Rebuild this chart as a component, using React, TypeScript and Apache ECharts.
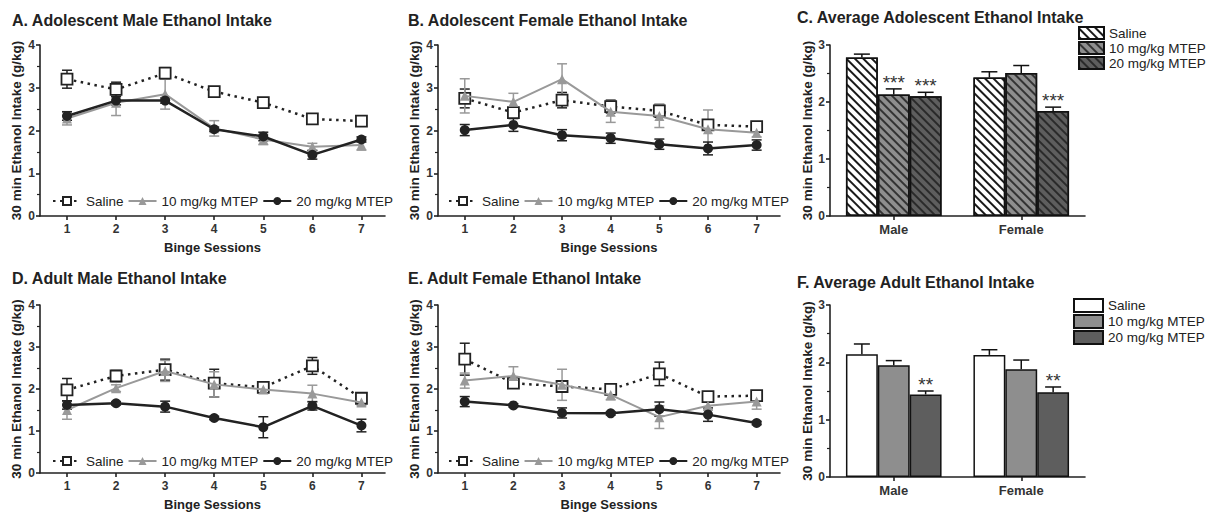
import React, { useEffect, useRef } from "react";
import * as echarts from "echarts";

// ---------- data ----------
const sessions = [1, 2, 3, 4, 5, 6, 7];
const groupNames = ["Saline", "10 mg/kg MTEP", "20 mg/kg MTEP"];
const sexes = ["Male", "Female"];

// A. Adolescent male
const aSaline = [3.2, 2.96, 3.34, 2.91, 2.65, 2.27, 2.22];
const aSalineSem = [0.21, 0.17, 0.13, 0.05, 0.05, 0.08, 0.05];
const a10 = [2.28, 2.65, 2.85, 2.05, 1.79, 1.62, 1.66];
const a10Sem = [0.15, 0.3, 0.35, 0.18, 0.12, 0.08, 0.12];
const a20 = [2.34, 2.7, 2.7, 2.03, 1.86, 1.43, 1.79];
const a20Sem = [0.1, 0.1, 0.06, 0.05, 0.1, 0.1, 0.06];

// B. Adolescent female
const bSaline = [2.75, 2.42, 2.71, 2.56, 2.46, 2.13, 2.09];
const bSalineSem = [0.22, 0.12, 0.18, 0.15, 0.15, 0.1, 0.08];
const b10 = [2.81, 2.67, 3.2, 2.44, 2.34, 2.03, 1.95];
const b10Sem = [0.4, 0.2, 0.36, 0.25, 0.27, 0.45, 0.1];
const b20 = [2.01, 2.13, 1.89, 1.82, 1.68, 1.58, 1.66];
const b20Sem = [0.13, 0.15, 0.13, 0.12, 0.12, 0.15, 0.12];

// D. Adult male
const dSaline = [1.98, 2.31, 2.46, 2.14, 2.04, 2.55, 1.78];
const dSalineSem = [0.27, 0.13, 0.25, 0.33, 0.06, 0.2, 0.1];
const d10 = [1.5, 2.02, 2.43, 2.11, 1.99, 1.89, 1.68];
const d10Sem = [0.22, 0.08, 0.25, 0.3, 0.06, 0.2, 0.08];
const d20 = [1.62, 1.66, 1.58, 1.31, 1.09, 1.6, 1.13];
const d20Sem = [0.1, 0.04, 0.13, 0.04, 0.25, 0.1, 0.15];

// E. Adult female
const eSaline = [2.71, 2.14, 2.06, 1.99, 2.36, 1.82, 1.84];
const eSalineSem = [0.38, 0.07, 0.1, 0.08, 0.28, 0.07, 0.08];
const e10 = [2.2, 2.31, 2.1, 1.86, 1.33, 1.6, 1.7];
const e10Sem = [0.18, 0.22, 0.37, 0.12, 0.27, 0.1, 0.18];
const e20 = [1.7, 1.61, 1.43, 1.42, 1.52, 1.39, 1.19];
const e20Sem = [0.12, 0.04, 0.12, 0.04, 0.17, 0.16, 0.04];

// C. Average adolescent (Male, Female)
const cSaline = [2.78, 2.43];
const cSalineSem = [0.06, 0.1];
const c10 = [2.13, 2.51];
const c10Sem = [0.1, 0.13];
const c20 = [2.1, 1.84];
const c20Sem = [0.07, 0.07];
const cStars = [["", ""], ["***", ""], ["***", "***"]];

// F. Average adult (Male, Female)
const fSaline = [2.14, 2.13];
const fSalineSem = [0.18, 0.09];
const f10 = [1.95, 1.88];
const f10Sem = [0.08, 0.16];
const f20 = [1.44, 1.48];
const f20Sem = [0.06, 0.09];
const fStars = [["", ""], ["", ""], ["**", "**"]];

const titles = [
  "A. Adolescent Male Ethanol Intake",
  "B. Adolescent Female Ethanol Intake",
  "C. Average Adolescent Ethanol Intake",
  "D. Adult Male Ethanol Intake",
  "E. Adult Female Ethanol Intake",
  "F. Average Adult Ethanol Intake",
];
const yName = "30 min Ethanol Intake (g/kg)";
const xName = "Binge Sessions";

// ---------- styling ----------
const FONT = "'Liberation Sans', Arial, sans-serif";
const INK = "#222";
const GREY = "#999";

const grids = [
  { left: 40, top: 45, width: 345, height: 171 },
  { left: 438, top: 45, width: 342, height: 171 },
  { left: 830, top: 45, width: 255, height: 171 },
  { left: 40, top: 305, width: 345, height: 168 },
  { left: 438, top: 305, width: 342, height: 168 },
  { left: 830, top: 305, width: 255, height: 172 },
];
const titlePos = [
  { left: 12, top: 12 },
  { left: 408, top: 12 },
  { left: 797, top: 9 },
  { left: 12, top: 270 },
  { left: 408, top: 270 },
  { left: 797, top: 274 },
];

const axisLineStyle = { color: INK, width: 1.6 };

function yAxisFor(gi: number, max: number, nameGap: number) {
  return {
    type: "value",
    gridIndex: gi,
    min: 0,
    max,
    interval: 1,
    name: yName,
    nameLocation: "middle",
    nameGap,
    nameTextStyle: { fontFamily: FONT, fontSize: 13.5, fontWeight: "bold", color: INK },
    axisLine: { show: true, lineStyle: axisLineStyle },
    axisTick: { show: true, length: 4, lineStyle: axisLineStyle },
    minorTick: { show: true, splitNumber: 2, length: 3, lineStyle: { color: INK, width: 1.2 } },
    splitLine: { show: false },
    axisLabel: { fontFamily: FONT, fontSize: 12, fontWeight: "bold", color: "#333", margin: 5 },
  };
}

function xLineAxis(gi: number) {
  return {
    type: "value",
    gridIndex: gi,
    min: 0.45,
    max: 7.48,
    name: xName,
    nameLocation: "middle",
    nameGap: 25,
    nameTextStyle: { fontFamily: FONT, fontSize: 13, fontWeight: "bold", color: INK },
    axisLine: { show: true, onZero: false, lineStyle: axisLineStyle },
    axisTick: { show: true, length: 4, lineStyle: axisLineStyle, customValues: sessions },
    axisLabel: {
      fontFamily: FONT,
      fontSize: 12,
      fontWeight: "bold",
      color: "#333",
      margin: 7,
      customValues: sessions,
    },
    splitLine: { show: false },
  };
}

function xBarAxis(gi: number) {
  return {
    type: "category",
    gridIndex: gi,
    data: sexes,
    axisLine: { show: true, lineStyle: axisLineStyle },
    axisTick: { show: true, alignWithLabel: true, length: 4, lineStyle: axisLineStyle },
    axisLabel: { fontFamily: FONT, fontSize: 13, fontWeight: "bold", color: "#333", margin: 7 },
    splitLine: { show: false },
  };
}

const lineStyles = [
  {
    lineStyle: { color: INK, width: 2.5, type: [2.5, 4.5] },
    symbol: "rect",
    symbolSize: 11,
    itemStyle: { color: "#fff", borderColor: INK, borderWidth: 1.8 },
  },
  {
    lineStyle: { color: GREY, width: 2 },
    symbol: "triangle",
    symbolSize: 10,
    itemStyle: { color: GREY },
  },
  {
    lineStyle: { color: INK, width: 2.5 },
    symbol: "circle",
    symbolSize: 10,
    itemStyle: { color: INK },
  },
];
const errColors = [INK, GREY, INK];

function errSeries(gi: number, color: string, means: number[], sems: number[]) {
  return {
    type: "custom",
    xAxisIndex: gi,
    yAxisIndex: gi,
    silent: true,
    z: 3,
    data: sessions.map((s, i) => [s, means[i], sems[i]]),
    renderItem: (_p: any, api: any) => {
      const x = api.value(0);
      const y = api.value(1);
      const e = api.value(2);
      const hi = api.coord([x, y + e]);
      const lo = api.coord([x, y - e]);
      const cw = 5;
      const st = { stroke: color, lineWidth: 1.5 };
      return {
        type: "group",
        children: [
          { type: "line", shape: { x1: hi[0], y1: hi[1], x2: lo[0], y2: lo[1] }, style: st },
          { type: "line", shape: { x1: hi[0] - cw, y1: hi[1], x2: hi[0] + cw, y2: hi[1] }, style: st },
          { type: "line", shape: { x1: lo[0] - cw, y1: lo[1], x2: lo[0] + cw, y2: lo[1] }, style: st },
        ],
      };
    },
  };
}

function linePanel(gi: number, sets: [number[], number[]][]) {
  const out: any[] = [];
  sets.forEach(([m, s], k) => {
    out.push(errSeries(gi, errColors[k], m, s));
  });
  sets.forEach(([m], k) => {
    out.push({
      type: "line",
      name: groupNames[k],
      xAxisIndex: gi,
      yAxisIndex: gi,
      data: sessions.map((x, i) => [x, m[i]]),
      z: 4 + k,
      ...lineStyles[k],
    });
  });
  return out;
}

const barFill = ["#ffffff", "#8e8e8e", "#5e5e5e"];
const stripeColor = ["#1a1a1a", "#333333", "#2a2a2a"];

function barPanel(gi: number, suffix: string, sets: [number[], number[]][], stars: string[][], hatched: boolean) {
  const out: any[] = [];
  sets.forEach(([m], k) => {
    const itemStyle: any = { color: barFill[k], borderColor: "#111", borderWidth: 1.5 };
    if (hatched) {
      itemStyle.decal = {
        symbol: "rect",
        symbolSize: 1,
        dashArrayX: [1, 0],
        dashArrayY: [2, 4],
        rotation: Math.PI / 4,
        color: stripeColor[k],
      };
    }
    out.push({
      type: "bar",
      name: groupNames[k] + suffix,
      xAxisIndex: gi,
      yAxisIndex: gi,
      data: m,
      barGap: "0%",
      barCategoryGap: "25%",
      itemStyle,
      z: 2,
    });
  });
  sets.forEach(([m, s], k) => {
    out.push({
      type: "custom",
      xAxisIndex: gi,
      yAxisIndex: gi,
      silent: true,
      z: 3,
      data: m.map((v, i) => [i, v, s[i]]),
      renderItem: (p: any, api: any) => {
        const ci = api.value(0);
        const v = api.value(1);
        const e = api.value(2);
        const base = api.coord([ci, v]);
        const top = api.coord([ci, v + e]);
        const band = api.size([1, 0])[0];
        const bw = band * 0.25;
        const cx = base[0] + (k - 1) * bw;
        const st = { stroke: "#111", lineWidth: 1.5 };
        const children: any[] = [
          { type: "line", shape: { x1: cx, y1: base[1], x2: cx, y2: top[1] }, style: st },
          { type: "line", shape: { x1: cx - 8, y1: top[1], x2: cx + 8, y2: top[1] }, style: st },
        ];
        const star = stars[k][p.dataIndex];
        if (star) {
          children.push({
            type: "text",
            x: cx,
            y: top[1] + 3,
            style: {
              text: star,
              fill: "#333",
              fontSize: 19,
              fontFamily: FONT,
              align: "center",
              verticalAlign: "bottom",
              textAlign: "center",
              textVerticalAlign: "bottom",
            },
          });
        }
        return { type: "group", children };
      },
    });
  });
  return out;
}

const lineLegend = (left: number, top: number) => ({
  left,
  top,
  orient: "horizontal",
  padding: 0,
  itemWidth: 28,
  itemHeight: 10,
  itemGap: 4,
  data: groupNames,
  selectedMode: false,
  textStyle: { fontFamily: FONT, fontSize: 13.5, color: INK },
});

const barLegend = (left: number, top: number, suffix: string, iw: number, ih: number, lh: number) => ({
  left,
  top,
  orient: "vertical",
  padding: 0,
  icon: "rect",
  itemWidth: iw,
  itemHeight: ih,
  itemGap: 1,
  selectedMode: false,
  data: groupNames.map((n) => n + suffix),
  formatter: (n: string) => n.trim(),
  textStyle: { fontFamily: FONT, fontSize: 13.5, color: INK, lineHeight: lh },
});

export default function App() {
  const ref = useRef<HTMLDivElement>(null);
  useEffect(() => {
    if (!ref.current) return;
    const chart = echarts.init(ref.current, undefined, { renderer: "svg" });
    const option: any = {
      animation: false,
      backgroundColor: "#ffffff",
      textStyle: { fontFamily: FONT },
      title: titles.map((t, i) => ({
        text: t,
        ...titlePos[i],
        padding: 0,
        textStyle: { fontFamily: FONT, fontSize: 16, fontWeight: "bold", color: INK },
      })),
      grid: grids,
      xAxis: [xLineAxis(0), xLineAxis(1), xBarAxis(2), xLineAxis(3), xLineAxis(4), xBarAxis(5)],
      yAxis: [
        yAxisFor(0, 4, 17),
        yAxisFor(1, 4, 17),
        yAxisFor(2, 3, 15),
        yAxisFor(3, 4, 17),
        yAxisFor(4, 4, 17),
        yAxisFor(5, 3, 15),
      ],
      legend: [
        lineLegend(52, 194),
        lineLegend(448, 194),
        lineLegend(52, 454),
        lineLegend(448, 454),
        barLegend(1078, 26, " ", 25, 12, 13.5),
        barLegend(1073, 298, "  ", 29, 13, 15),
      ],
      series: [
        ...linePanel(0, [[aSaline, aSalineSem], [a10, a10Sem], [a20, a20Sem]]),
        ...linePanel(1, [[bSaline, bSalineSem], [b10, b10Sem], [b20, b20Sem]]),
        ...barPanel(2, " ", [[cSaline, cSalineSem], [c10, c10Sem], [c20, c20Sem]], cStars, true),
        ...linePanel(3, [[dSaline, dSalineSem], [d10, d10Sem], [d20, d20Sem]]),
        ...linePanel(4, [[eSaline, eSalineSem], [e10, e10Sem], [e20, e20Sem]]),
        ...barPanel(5, "  ", [[fSaline, fSalineSem], [f10, f10Sem], [f20, f20Sem]], fStars, false),
      ],
    };
    chart.setOption(option);
    return () => chart.dispose();
  }, []);
  return (
    <div
      ref={ref}
      style={{ position: "absolute", left: 0, top: 0, width: 1215, height: 519, background: "#fff" }}
    />
  );
}
